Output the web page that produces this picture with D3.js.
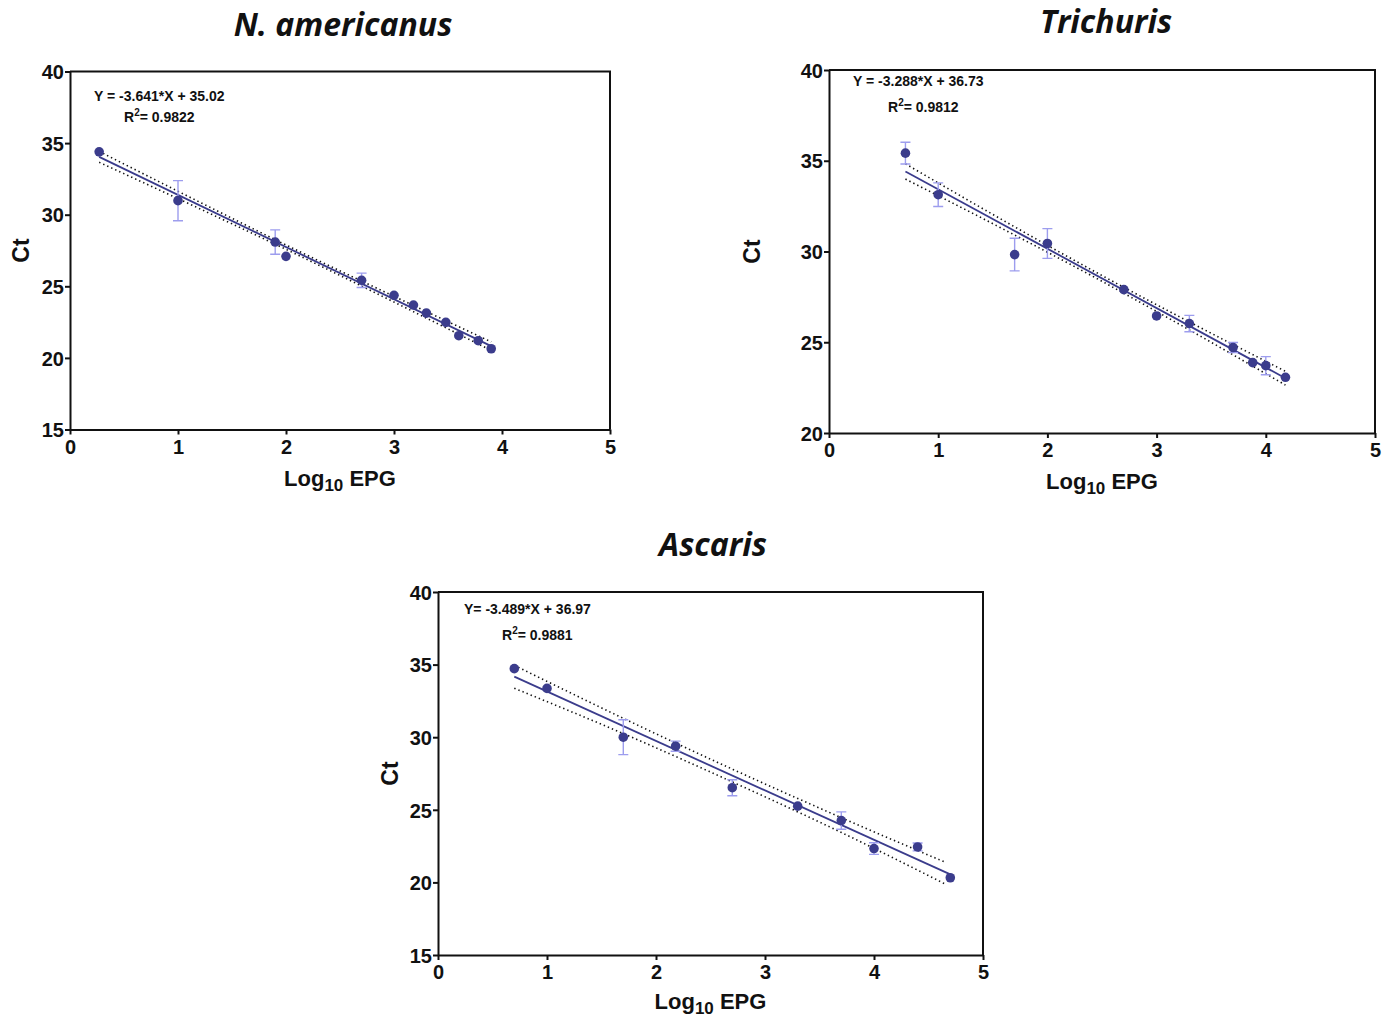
<!DOCTYPE html>
<html><head><meta charset="utf-8">
<script src="https://cdn.jsdelivr.net/npm/d3@7"></script>
<style>body{margin:0;background:#fff}svg{display:block}</style>
</head><body>
<script>
// ---------- DATA ----------
const titles = ["N. americanus", "Trichuris", "Ascaris"];
const equations = ["Y = -3.641*X + 35.02", "Y = -3.288*X + 36.73", "Y= -3.489*X + 36.97"];
const r2Values = ["0.9822", "0.9812", "0.9881"];
const xTicks = [0, 1, 2, 3, 4, 5];
const yTicksA = [15, 20, 25, 30, 35, 40];
const yTicksB = [20, 25, 30, 35, 40];

// N. americanus
const naX   = [0.27, 1.00, 1.90, 2.00, 2.70, 3.00, 3.18, 3.30, 3.48, 3.60, 3.78, 3.90];
const naY   = [34.39, 30.98, 28.09, 27.09, 25.42, 24.37, 23.69, 23.13, 22.48, 21.55, 21.20, 20.64];
const naErr = [0, 1.40, 0.85, 0, 0.50, 0, 0, 0, 0, 0, 0, 0];
const naFitX = [0.27, 3.90];
const naFitY = [34.04, 20.82];
const naBandX = [0.27, 1.2, 2.1, 3.0, 3.9];
const naBandHi = [34.42, 30.88, 27.52, 24.30, 21.12];
const naBandLo = [33.66, 30.42, 27.22, 23.90, 20.52];

// Trichuris
const trX   = [0.70, 1.00, 1.70, 2.00, 2.70, 3.00, 3.30, 3.70, 3.88, 4.00, 4.18];
const trY   = [35.42, 33.13, 29.83, 30.44, 27.90, 26.45, 26.03, 24.71, 23.88, 23.71, 23.07];
const trErr = [0.60, 0.65, 0.90, 0.82, 0, 0, 0.45, 0.28, 0, 0.50, 0];
const trFitX = [0.70, 4.18];
const trFitY = [34.41, 23.02];
const trBandX = [0.70, 1.6, 2.45, 3.3, 4.18];
const trBandHi = [34.83, 31.70, 28.84, 26.12, 23.40];
const trBandLo = [33.99, 31.22, 28.52, 25.68, 22.64];

// Ascaris
const asX   = [0.70, 1.00, 1.70, 2.18, 2.70, 3.30, 3.70, 4.00, 4.40, 4.70];
const asY   = [34.72, 33.36, 30.00, 29.38, 26.52, 25.25, 24.26, 22.33, 22.44, 20.32];
const asErr = [0, 0, 1.20, 0.35, 0.55, 0, 0.60, 0.40, 0.27, 0];
const asFitX = [0.70, 4.70];
const asFitY = [34.17, 20.55];
const asBandX = [0.70, 1.7, 2.7, 3.7, 4.65];
const asBandHi = [34.95, 31.30, 27.80, 24.46, 21.40];
const asBandLo = [33.37, 30.25, 26.92, 23.44, 19.90];

// ---------- LAYOUT ----------
const panels = [
  {title: titles[0], eq: equations[0], r2: r2Values[0], x: naX, y: naY, err: naErr,
   fitX: naFitX, fitY: naFitY, bX: naBandX, bHi: naBandHi, bLo: naBandLo,
   yDom: [15, 40], yTicks: yTicksA,
   L: 70, R: 610, T: 71.5, B: 429.5, titleX: 343, titleY: 36,
   eqX: 94, eqY: 101, r2X: 124, r2Y: 122, ctX: 29, labY: 486},
  {title: titles[1], eq: equations[1], r2: r2Values[1], x: trX, y: trY, err: trErr,
   fitX: trFitX, fitY: trFitY, bX: trBandX, bHi: trBandHi, bLo: trBandLo,
   yDom: [20, 40], yTicks: yTicksB,
   L: 829, R: 1375, T: 70, B: 433, titleX: 1106, titleY: 33,
   eqX: 853, eqY: 86, r2X: 888, r2Y: 112, ctX: 760, labY: 489},
  {title: titles[2], eq: equations[2], r2: r2Values[2], x: asX, y: asY, err: asErr,
   fitX: asFitX, fitY: asFitY, bX: asBandX, bHi: asBandHi, bLo: asBandLo,
   yDom: [15, 40], yTicks: yTicksA,
   L: 438, R: 983, T: 592, B: 955, titleX: 713, titleY: 556,
   eqX: 464, eqY: 614, r2X: 502, r2Y: 640, ctX: 398, labY: 1009}
];

const NAVY = "#3b3c8c";
const ERRC = "#9d9dee";

const svg = d3.select("body").append("svg").attr("width", 1390).attr("height", 1018);

panels.forEach(p => {
  const g = svg.append("g");
  const x = d3.scaleLinear().domain([0, 5]).range([p.L, p.R]);
  const y = d3.scaleLinear().domain(p.yDom).range([p.B, p.T]);

  // frame (top, right)
  g.append("path").attr("d", `M${p.L},${p.T}H${p.R}V${p.B}`)
    .attr("fill", "none").attr("stroke", "#111").attr("stroke-width", 2);

  const ax = g.append("g").attr("transform", `translate(0,${p.B})`)
    .call(d3.axisBottom(x).tickValues(xTicks).tickSize(5).tickSizeOuter(0).tickFormat(d3.format("d")));
  const ay = g.append("g").attr("transform", `translate(${p.L},0)`)
    .call(d3.axisLeft(y).tickValues(p.yTicks).tickSize(5).tickSizeOuter(0).tickFormat(d3.format("d")));
  [ax, ay].forEach(a => {
    a.select(".domain").attr("stroke", "#111").attr("stroke-width", 2);
    a.selectAll(".tick line").attr("stroke", "#111").attr("stroke-width", 2);
    a.selectAll(".tick text").attr("fill", "#111")
      .style("font-family", "'Liberation Sans', Arial, sans-serif")
      .style("font-weight", "bold").style("font-size", "20px");
  });
  ax.selectAll(".tick text").attr("dy", "0.9em").attr("y", 6);
  ay.selectAll(".tick text").attr("x", -6).attr("dy", "0.36em");

  // confidence bands (dotted)
  const bandLine = d3.line().x(d => x(d[0])).y(d => y(d[1])).curve(d3.curveMonotoneX);
  [p.bHi, p.bLo].forEach(arr => {
    g.append("path").datum(p.bX.map((v, i) => [v, arr[i]]))
      .attr("d", bandLine).attr("fill", "none").attr("stroke", "#111")
      .attr("stroke-width", 1.6).attr("stroke-dasharray", "1.4,3");
  });

  // fit line
  g.append("path").datum(p.fitX.map((v, i) => [v, p.fitY[i]]))
    .attr("d", d3.line().x(d => x(d[0])).y(d => y(d[1])))
    .attr("fill", "none").attr("stroke", NAVY).attr("stroke-width", 1.8);

  // error bars
  const pts = p.x.map((v, i) => ({x: v, y: p.y[i], e: p.err[i]}));
  const eb = g.append("g").attr("stroke", ERRC).attr("stroke-width", 1.4).attr("fill", "none");
  pts.filter(d => d.e > 0).forEach(d => {
    const cx = x(d.x), y1 = y(d.y + d.e), y2 = y(d.y - d.e);
    eb.append("path").attr("d", `M${cx},${y1}V${y2}M${cx - 5},${y1}H${cx + 5}M${cx - 5},${y2}H${cx + 5}`);
  });

  // points
  g.selectAll("circle.pt").data(pts).enter().append("circle")
    .attr("cx", d => x(d.x)).attr("cy", d => y(d.y)).attr("r", 4.8).attr("fill", NAVY);

  // equation text
  const tf = "'Liberation Sans', Arial, sans-serif";
  g.append("text").attr("x", p.eqX).attr("y", p.eqY).text(p.eq)
    .style("font-family", tf).style("font-weight", "bold").style("font-size", "14px").attr("fill", "#111");
  const r2 = g.append("text").attr("x", p.r2X).attr("y", p.r2Y)
    .style("font-family", tf).style("font-weight", "bold").style("font-size", "14px").attr("fill", "#111");
  r2.append("tspan").text("R");
  r2.append("tspan").text("2").attr("dy", -6).style("font-size", "10px");
  r2.append("tspan").text("= " + p.r2).attr("dy", 6);

  // title
  g.append("text").attr("x", p.titleX).attr("y", p.titleY).attr("text-anchor", "middle").text(p.title)
    .style("font-family", "'Open Sans', 'Noto Sans', sans-serif").style("font-weight", "bold")
    .style("font-style", "italic").style("font-size", "32px").attr("fill", "#111");

  // y label
  g.append("text").attr("transform", `translate(${p.ctX},${(p.T + p.B) / 2}) rotate(-90)`)
    .attr("text-anchor", "middle").text("Ct")
    .style("font-family", tf).style("font-weight", "bold").style("font-size", "23px").attr("fill", "#111");

  // x label
  const xl = g.append("text").attr("x", (p.L + p.R) / 2).attr("y", p.labY).attr("text-anchor", "middle")
    .style("font-family", tf).style("font-weight", "bold").style("font-size", "22px").attr("fill", "#111");
  xl.append("tspan").text("Log");
  xl.append("tspan").text("10").attr("dy", 5).style("font-size", "17px");
  xl.append("tspan").text(" EPG").attr("dy", -5);
});
</script>
</body></html>
